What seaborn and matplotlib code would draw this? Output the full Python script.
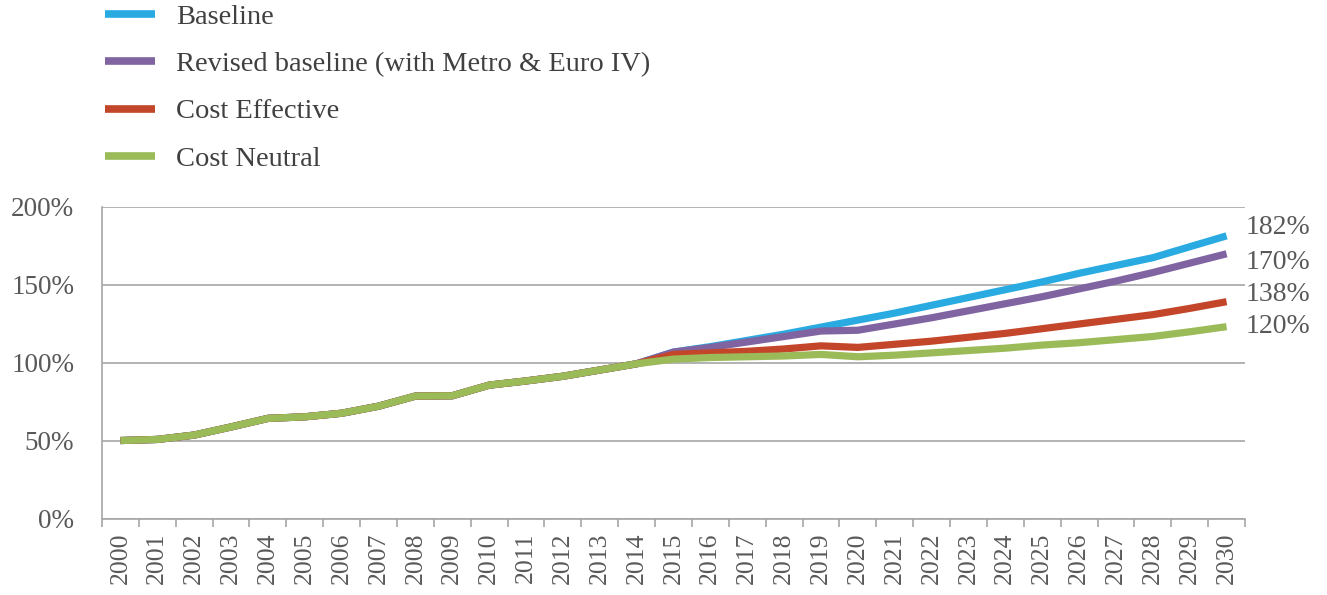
import numpy as np
import pandas as pd
import matplotlib
matplotlib.use("Agg")
import matplotlib.pyplot as plt
import seaborn as sns
from matplotlib.ticker import FixedLocator

# ---------------- data ----------------
years = list(range(2000, 2031))
historic = [50.3, 51.0, 53.8, 59.0, 64.5, 65.5, 67.8, 72.3, 78.8, 79.0,
            85.8, 88.5, 91.5, 95.5, 99.5]  # 2000-2014, shared by all series
baseline_proj = [107, 110.5, 114.5, 118.5, 123, 127.5, 132, 137, 142, 147,
                 152, 157.5, 162.5, 167.5, 174.5, 181.5]
revised_proj = [107, 110, 113.5, 117, 120.5, 121, 125, 129, 133.5, 138,
                142.5, 147.5, 152.5, 158, 164, 170]
cost_eff_proj = [105.5, 106.5, 107.5, 109, 111, 110, 112, 114, 116.5, 119,
                 122, 125, 128, 131, 135, 139.3]
cost_neu_proj = [102.5, 103.5, 104, 104.5, 105.5, 104, 105, 106.5, 108, 109.5,
                 111.5, 113, 115, 117, 120, 123.3]
series_names = ["Baseline", "Revised baseline (with Metro & Euro IV)",
                "Cost Effective", "Cost Neutral"]
colors = ["#29ABE2", "#8064A2", "#C4462A", "#9BBB59"]
end_labels = ["182%", "170%", "138%", "120%"]
y_ticks = [0, 50, 100, 150, 200]
y_tick_labels = ["0%", "50%", "100%", "150%", "200%"]

proj = [baseline_proj, revised_proj, cost_eff_proj, cost_neu_proj]
rows = []
for name, p in zip(series_names, proj):
    vals = historic + p
    for y, v in zip(years, vals):
        rows.append({"Year": y, "Value": v, "Series": name})
df = pd.DataFrame(rows)

# ---------------- style ----------------
sns.set_style("white")
plt.rcParams["font.family"] = ["Liberation Serif", "DejaVu Serif"]
text_color = "#595959"
grid_color = "#A6A6A6"

fig = plt.figure(figsize=(13.27, 5.95), dpi=100)
ax = fig.add_axes([102 / 1327, 1 - 519 / 595, (1245 - 102) / 1327, (519 - 207) / 595])

sns.lineplot(data=df, x="Year", y="Value", hue="Series", hue_order=series_names,
             palette=colors, linewidth=5.2, ax=ax, legend=True, sort=False,
             solid_capstyle="butt")

ax.set_xlim(years[0] - 0.5, years[-1] + 0.5)
ax.set_ylim(0, 200)

ax.set_yticks(y_ticks)
ax.set_yticklabels(y_tick_labels)
ax.set_xticks(years)
ax.set_xticklabels([str(y) for y in years], rotation=90)
ax.xaxis.set_minor_locator(FixedLocator([y - 0.5 for y in years] + [years[-1] + 0.5]))

ax.tick_params(axis="y", which="major", length=6, width=1.2, color=grid_color,
               labelsize=19.5, labelcolor=text_color, pad=14, direction="out")
ax.tick_params(axis="x", which="major", length=0, labelsize=18.5,
               labelcolor=text_color, pad=10)
ax.tick_params(axis="x", which="minor", length=6, width=1.2, color=grid_color,
               direction="out", bottom=True)

ax.grid(axis="y", color=grid_color, linewidth=1.2)
ax.grid(axis="x", visible=False)
ax.set_axisbelow(True)
for s in ["top", "right"]:
    ax.spines[s].set_visible(False)
for s in ["left", "bottom"]:
    ax.spines[s].set_color(grid_color)
    ax.spines[s].set_linewidth(1.2)
ax.set_xlabel("")
ax.set_ylabel("")

# end labels
offsets = [6, -6, 5, 0]
for p, lab, off in zip(proj, end_labels, offsets):
    ax.annotate(lab, xy=(years[-1], p[-1]), xytext=(14, off),
                textcoords="offset points", ha="left", va="center",
                fontsize=20, color=text_color, annotation_clip=False)

# legend
handles, labels = ax.get_legend_handles_labels()
ax.get_legend().remove()
leg = fig.legend(handles, labels, loc="upper left",
                 bbox_to_anchor=(105 / 1327, 1 - 4 / 595),
                 frameon=False, fontsize=20.5, handlelength=1.75,
                 handletextpad=0.75, labelspacing=0.75, borderpad=0,
                 borderaxespad=0)
for t in leg.get_texts():
    t.set_color("#404040")
for h in leg.get_lines():
    h.set_linewidth(5.5)
    h.set_solid_capstyle("butt")

fig.savefig("out.png", dpi=100)
